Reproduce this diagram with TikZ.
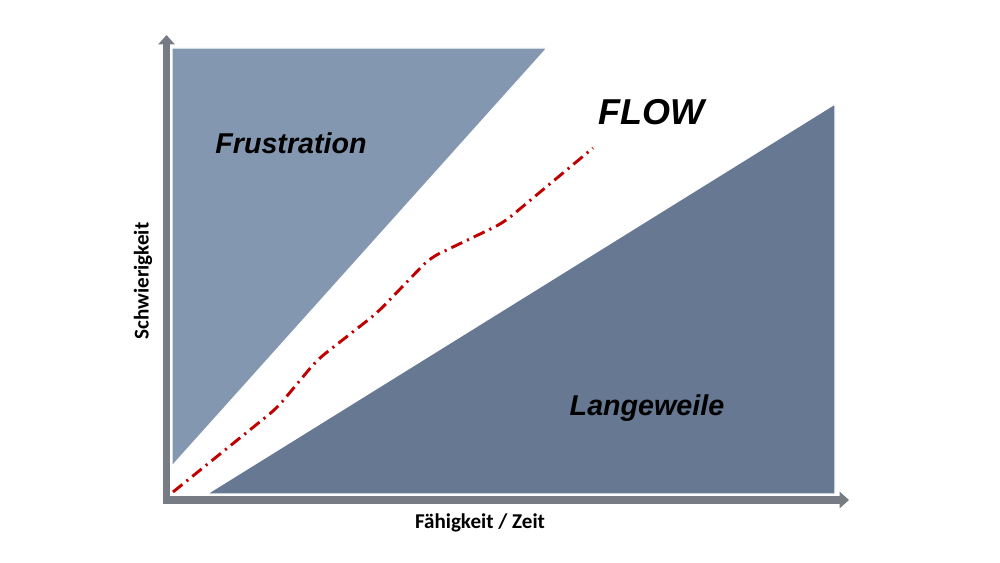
\documentclass[tikz,border=0pt]{standalone}
\usepackage{fontspec}
\setmainfont{Carlito}
\newfontfamily\brushfont{Liberation Sans}
\usetikzlibrary{arrows.meta}
\definecolor{frustc}{HTML}{8497B0}
\definecolor{langc}{HTML}{667892}
\definecolor{axisc}{HTML}{777C84}
\definecolor{flowc}{HTML}{C00000}
\tikzset{
  zone/.style={draw=white, line width=0.8pt},
  axisline/.style={draw=axisc, line width=5.6pt, -{Triangle[length=7pt,width=12pt]}},
  axislabel/.style={font=\bfseries\fontsize{15.8}{18}\selectfont, text=black, inner sep=0pt},
  brushlabel/.style={font=\brushfont\bfseries\itshape, text=black, inner sep=0pt},
  flowline/.style={draw=flowc, line width=2.2pt, dash pattern=on 9pt off 4pt on 1.6pt off 4pt, rounded corners=8pt}
}
\begin{document}
\begin{tikzpicture}[x=0.75pt,y=-0.75pt]
\useasboundingbox[fill=white] (0,0) rectangle (1000,563);
% zones
\fill[frustc] (172,48) -- (547,48) -- (172,466) -- cycle;
\draw[zone] (172,48) -- (547,48) -- (172,466) -- cycle;
\fill[langc] (207,494) -- (835,104) -- (835,494) -- cycle;
\draw[zone] (207,494) -- (835,104) -- (835,494) -- cycle;
% axes
\coordinate (origin) at (166.5,500);
\coordinate (ytop) at (166.5,35);
\coordinate (xend) at (849,500);
\coordinate (ybot) at (166.5,504);
\coordinate (xbeg) at (163,500);
\draw[axisline] (ybot) -- (ytop);
\draw[axisline] (xbeg) -- (xend);
% flow line
\coordinate (f0) at (173,492);
\coordinate (f1) at (277,408);
\coordinate (f2) at (317,360);
\coordinate (f3) at (377,313);
\coordinate (f4) at (430,258);
\coordinate (f5) at (503,223);
\coordinate (f6) at (593,148);
\draw[flowline] (f0) -- (f1) -- (f2) -- (f3) -- (f4) -- (f5) -- (f6);
% labels
\node[brushlabel, font=\brushfont\bfseries\itshape\fontsize{21.5}{24}\selectfont] (frust) at (291,143) {Frustration};
\node[brushlabel, font=\brushfont\bfseries\itshape\fontsize{27}{30}\selectfont] (flow) at (651,112) {FLOW};
\node[brushlabel, font=\brushfont\bfseries\itshape\fontsize{21.5}{24}\selectfont] (lang) at (647,408) {Langeweile};
\node[axislabel] (xlab) at (480,523) {Fähigkeit / Zeit};
\node[axislabel, rotate=90] (ylab) at (143,281) {Schwierigkeit};
\end{tikzpicture}
\end{document}
